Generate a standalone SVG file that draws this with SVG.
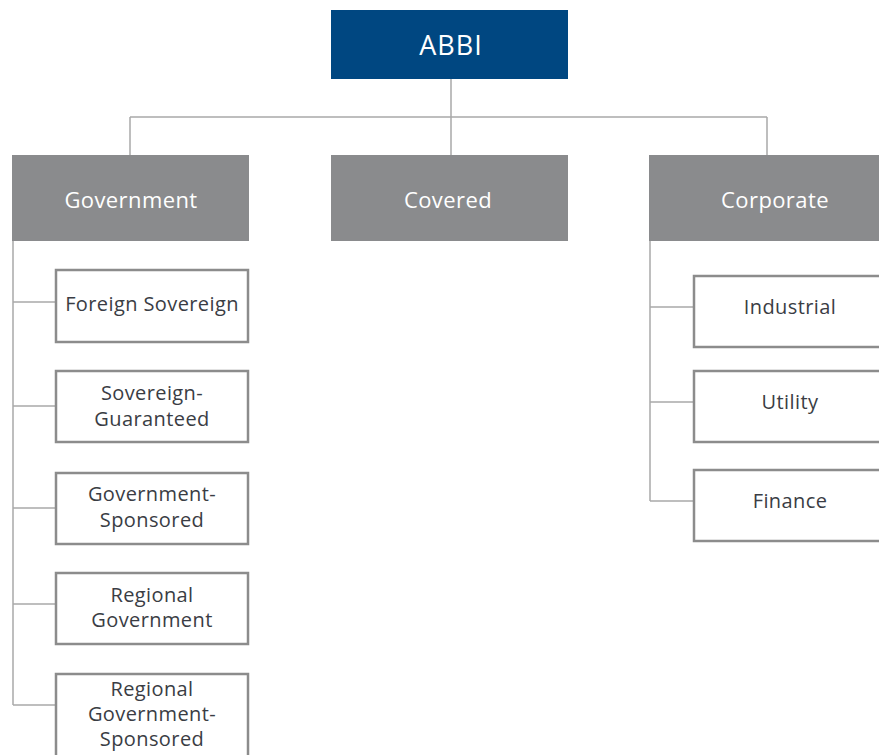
<svg xmlns="http://www.w3.org/2000/svg" width="879" height="755" viewBox="0 0 879 755">
<style>
.top{fill:#004781}
.cat{fill:#8a8b8d}
.leaf{fill:#fff;stroke:#8c8c8c;stroke-width:2.5}
.conn{fill:none;stroke:#a9a9a9;stroke-width:1.5}
text{font-family:"Open Sans","Noto Sans","Liberation Sans",sans-serif;text-anchor:middle}
.tt{fill:#fff;font-size:27px;letter-spacing:1px}
.ct{fill:#fff;font-size:22px;letter-spacing:0.4px}
.lt{fill:#3a3d44;font-size:20px;letter-spacing:0.4px}
</style>
<rect width="879" height="755" fill="#fff"/>
<g id="connectors">
<path class="conn" d="M451 79V155M130 117H767M130 117V155M767 117V155"/>
<path class="conn" d="M13 241V705M13 302H55M13 406H55M13 508H55M13 604H55M13 705H55"/>
<path class="conn" d="M650 241V501M650 307H693M650 402H693M650 501H693"/>
</g>
<g id="abbi"><rect class="top" x="331" y="10" width="237" height="69"/><text class="tt" x="451" y="55">ABBI</text></g>
<g id="government"><rect class="cat" x="12" y="155" width="237" height="86"/><text class="ct" x="131" y="208">Government</text></g>
<g id="covered"><rect class="cat" x="331" y="155" width="237" height="86"/><text class="ct" x="448" y="208">Covered</text></g>
<g id="corporate"><rect class="cat" x="649" y="155" width="240" height="86"/><text class="ct" x="775" y="208">Corporate</text></g>
<g id="foreign-sovereign"><rect class="leaf" x="56" y="270" width="192" height="72"/><text class="lt" x="152" y="311">Foreign Sovereign</text></g>
<g id="sovereign-guaranteed"><rect class="leaf" x="56" y="371" width="192" height="71"/><text class="lt" x="152" y="400">Sovereign-</text><text class="lt" x="152" y="426">Guaranteed</text></g>
<g id="government-sponsored"><rect class="leaf" x="56" y="473" width="192" height="71"/><text class="lt" x="152" y="501">Government-</text><text class="lt" x="152" y="527">Sponsored</text></g>
<g id="regional-government"><rect class="leaf" x="56" y="573" width="192" height="71"/><text class="lt" x="152" y="602">Regional</text><text class="lt" x="152" y="627">Government</text></g>
<g id="regional-government-sponsored"><rect class="leaf" x="56" y="674" width="192" height="90"/><text class="lt" x="152" y="696">Regional</text><text class="lt" x="152" y="721">Government-</text><text class="lt" x="152" y="746">Sponsored</text></g>
<g id="industrial"><rect class="leaf" x="694" y="276" width="195" height="71"/><text class="lt" x="790" y="314">Industrial</text></g>
<g id="utility"><rect class="leaf" x="694" y="371" width="195" height="71"/><text class="lt" x="790" y="409">Utility</text></g>
<g id="finance"><rect class="leaf" x="694" y="470" width="195" height="71"/><text class="lt" x="790" y="508">Finance</text></g>
</svg>
